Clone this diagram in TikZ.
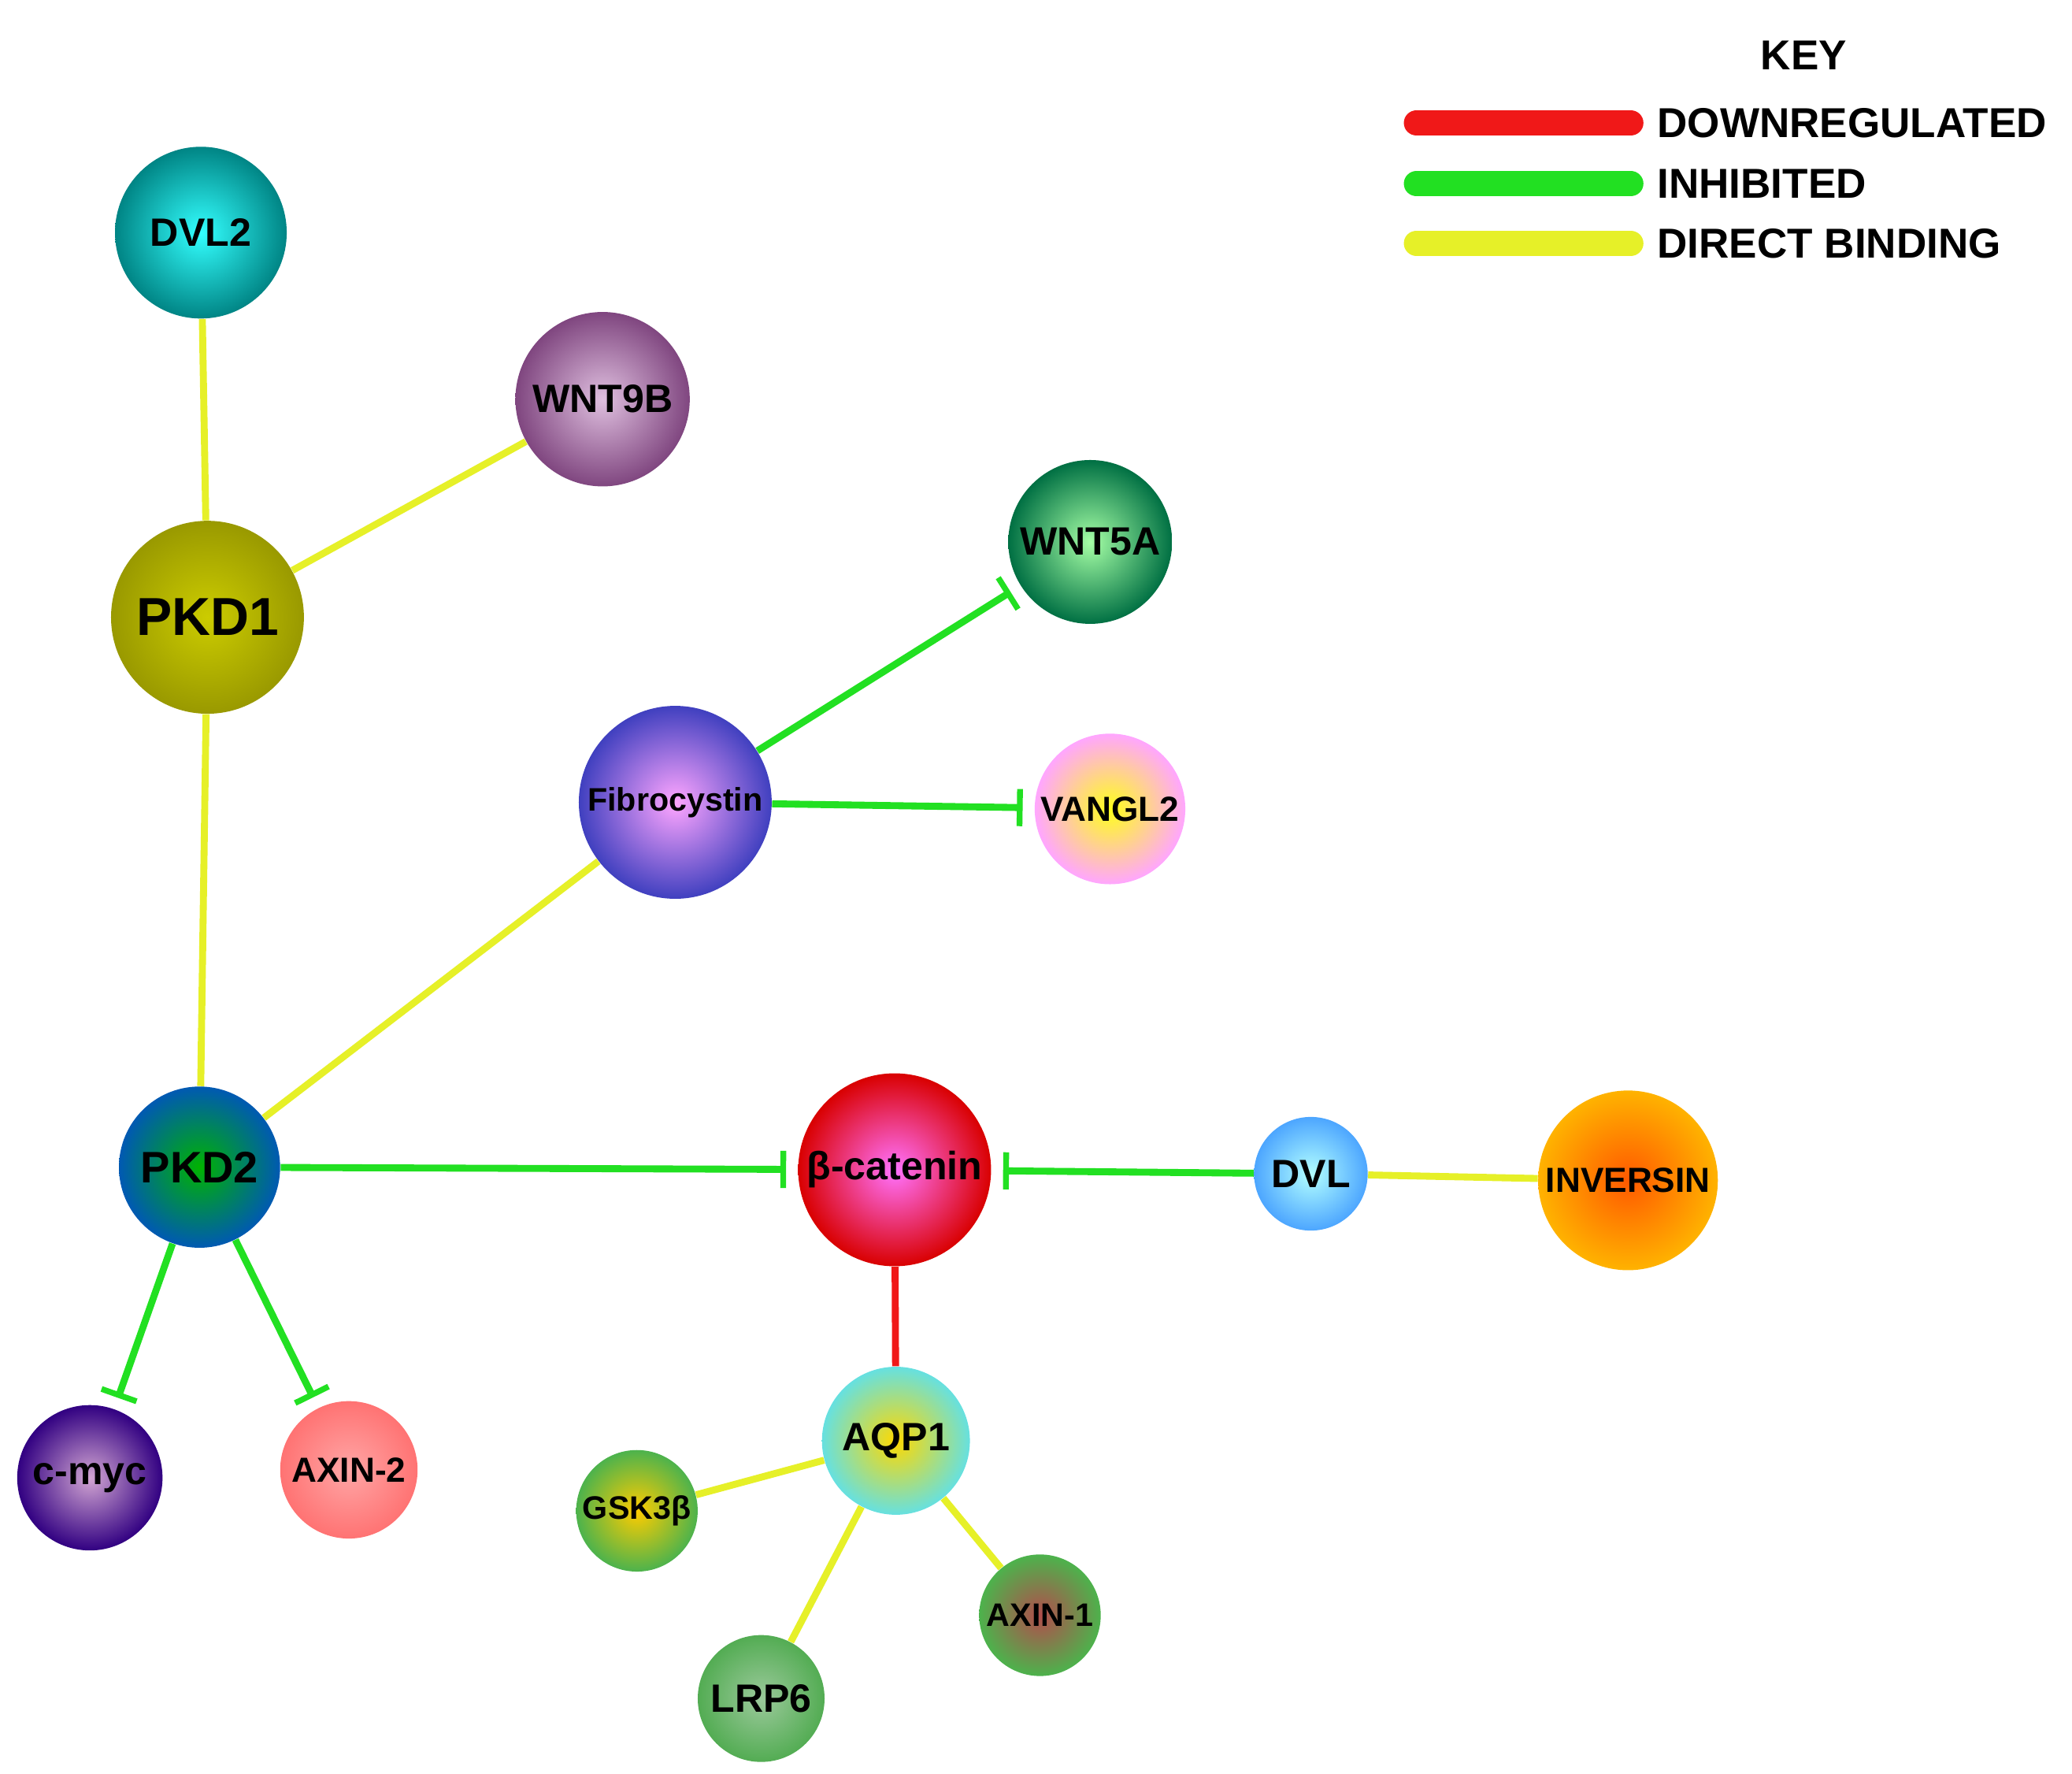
\documentclass[tikz,border=0pt]{standalone}
\usepackage{fontspec}
\setmainfont{Liberation Sans}
\usetikzlibrary{arrows.meta}
\definecolor{ylw}{HTML}{E6F028}
\definecolor{grn}{HTML}{22E022}
\definecolor{rd}{HTML}{F01818}
\tikzset{
  x=0.02cm,y=-0.02cm,
  ball/.style args={#1/#2/#3}{circle,minimum size=#1*0.04cm,inner color=#2,outer color=#3,font=\bfseries\fontsize{17}{17}\selectfont,inner sep=0pt},
  bind/.style={ylw,line width=3pt},
  inhib/.style={grn,line width=3pt,-{Bar[width=16pt,line width=2.5pt]},shorten >=5pt},
  down/.style={rd,line width=3pt},
  keybar/.style={line width=11pt,line cap=round},
  keytxt/.style={anchor=west,font=\bfseries\fontsize{18}{18}\selectfont},
}
\begin{document}
\begin{tikzpicture}
\useasboundingbox (0,0) rectangle (1568,1342);
\node[ball=65/cyan!80!white/teal!70!cyan!80!black] (dvl2) at (152,176) {DVL2};
\node[ball=66/violet!25!white/violet!45!gray] (wnt9b) at (456,302) {WNT9B};
\node[ball=73/yellow!60!olive/olive!80!yellow,font=\bfseries\fontsize{23}{23}\selectfont] (pkd1) at (157,467) {PKD1};
\node[ball=62/green!35!white/teal!75!green!70!black] (wnt5a) at (825,410) {WNT5A};
\node[ball=73/magenta!35!white/blue!50!gray,font=\bfseries\fontsize{14}{14}\selectfont] (fib) at (511,607) {Fibrocystin};
\node[ball=57/yellow!90!white/magenta!35!white,font=\bfseries\fontsize{15}{15}\selectfont] (vangl2) at (840,612) {VANGL2};
\node[ball=61/green!70!black/blue!50!cyan!70!black,font=\bfseries\fontsize{19}{19}\selectfont] (pkd2) at (151,883) {PKD2};
\node[ball=73/magenta!55!white/red!85!black] (bcat) at (677,885) {β-catenin};
\node[ball=43/cyan!30!white/cyan!50!blue!70!white] (dvl) at (992,888) {DVL};
\node[ball=68/orange!70!red/orange!60!yellow,font=\bfseries\fontsize{15}{15}\selectfont] (inv) at (1232,893) {INVERSIN};
\node[ball=55/violet!35!white/violet!55!blue!70!black] (cmyc) at (68,1118) {c-myc};
\node[ball=52/red!35!white/red!55!white,font=\bfseries\fontsize{15}{15}\selectfont] (axin2) at (264,1112) {AXIN-2};
\node[ball=56/yellow!70!orange/teal!40!cyan!60!white] (aqp1) at (678,1090) {AQP1};
\node[ball=46/yellow!60!orange/green!40!gray,font=\bfseries\fontsize{14}{14}\selectfont] (gsk) at (482,1143) {GSK3β};
\node[ball=46/red!40!gray/green!40!gray,font=\bfseries\fontsize{14}{14}\selectfont] (axin1) at (787,1222) {AXIN-1};
\node[ball=48/green!30!gray!60!white/green!35!gray] (lrp6) at (576,1285) {LRP6};

\draw[bind] (dvl2) -- (pkd1);
\draw[bind] (wnt9b) -- (pkd1);
\draw[bind] (pkd1) -- (pkd2);
\draw[bind] (pkd2) -- (fib);
\draw[bind] (dvl) -- (inv);
\draw[bind] (aqp1) -- (gsk);
\draw[bind] (aqp1) -- (axin1);
\draw[bind] (aqp1) -- (lrp6);
\draw[down] (bcat) -- (aqp1);
\draw[inhib] (fib) -- (wnt5a);
\draw[inhib] (fib) -- (vangl2);
\draw[inhib] (pkd2) -- (bcat);
\draw[inhib] (dvl) -- (bcat);
\draw[inhib] (pkd2) -- (cmyc);
\draw[inhib] (pkd2) -- (axin2);

\node[font=\bfseries\fontsize{18}{18}\selectfont] (key) at (1365,42) {KEY};
\coordinate (k1a) at (1072,93); \coordinate (k1b) at (1234,93);
\coordinate (k2a) at (1072,139); \coordinate (k2b) at (1234,139);
\coordinate (k3a) at (1072,184); \coordinate (k3b) at (1234,184);
\draw[keybar,rd] (k1a) -- (k1b);
\draw[keybar,grn] (k2a) -- (k2b);
\draw[keybar,ylw] (k3a) -- (k3b);
\node[keytxt] (t1) at (1248,93) {DOWNREGULATED};
\node[keytxt] (t2) at (1248,139) {INHIBITED};
\node[keytxt] (t3) at (1248,184) {DIRECT BINDING};
\end{tikzpicture}
\end{document}
